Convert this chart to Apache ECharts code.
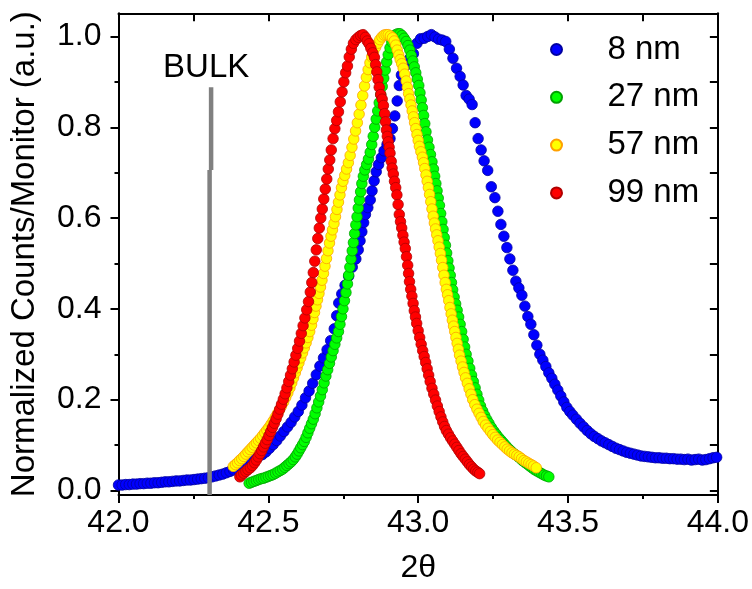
<!DOCTYPE html>
<html><head><meta charset="utf-8">
<script src="https://cdn.jsdelivr.net/npm/echarts@6/dist/echarts.min.js"></script>
<style>html,body{margin:0;padding:0;background:#fff}#c{width:752px;height:589px}</style>
</head><body><div id="c"></div>
<script>
const seriesNames = ['8 nm', '27 nm', '57 nm', '99 nm'];
const yMajorTicks = [0, 0.2, 0.4, 0.6, 0.8, 1.0];
const yMinorTicks = [0.1, 0.3, 0.5, 0.7, 0.9];
const yRightTicks = [0, 0.1, 0.2, 0.3, 0.4, 0.5, 0.6, 0.7, 0.8, 0.9, 1.0];
const bulkLower = [[42.304, -0.01], [42.304, 0.706]];
const bulkUpper = [[42.309, 0.706], [42.309, 0.888]];
const bulkLabelPoint = [[42.306, 0.888]];
const bulkText = 'BULK';

const blueData = [[42.000,0.012],[42.012,0.012],[42.024,0.013],[42.036,0.013],[42.048,0.014],[42.060,0.014],[42.072,0.015],[42.084,0.015],[42.096,0.016],[42.108,0.016],[42.120,0.017],[42.132,0.017],[42.144,0.018],[42.156,0.019],[42.168,0.019],[42.180,0.020],[42.192,0.021],[42.204,0.021],[42.216,0.022],[42.228,0.023],[42.240,0.023],[42.252,0.024],[42.264,0.025],[42.276,0.026],[42.288,0.027],[42.300,0.028],[42.312,0.030],[42.324,0.032],[42.336,0.034],[42.348,0.036],[42.360,0.039],[42.372,0.042],[42.384,0.045],[42.396,0.048],[42.408,0.051],[42.420,0.055],[42.432,0.060],[42.444,0.065],[42.456,0.070],[42.468,0.075],[42.480,0.079],[42.492,0.085],[42.504,0.093],[42.516,0.101],[42.528,0.110],[42.540,0.120],[42.552,0.130],[42.564,0.140],[42.576,0.150],[42.588,0.162],[42.600,0.174],[42.612,0.188],[42.624,0.204],[42.636,0.219],[42.648,0.236],[42.660,0.255],[42.672,0.274],[42.684,0.292],[42.696,0.310],[42.708,0.330],[42.720,0.356],[42.728,0.385],[42.735,0.413],[42.745,0.433],[42.756,0.452],[42.768,0.472],[42.780,0.492],[42.792,0.510],[42.800,0.530],[42.806,0.550],[42.812,0.570],[42.818,0.590],[42.824,0.608],[42.832,0.623],[42.840,0.640],[42.846,0.660],[42.853,0.682],[42.860,0.702],[42.868,0.718],[42.877,0.733],[42.886,0.748],[42.896,0.762],[42.906,0.775],[42.914,0.797],[42.922,0.825],[42.930,0.858],[42.937,0.892],[42.944,0.915],[42.956,0.935],[42.970,0.950],[42.984,0.962],[42.996,0.985],[43.008,0.995],[43.020,0.996],[43.032,1.000],[43.044,1.004],[43.056,0.999],[43.068,0.994],[43.080,0.992],[43.092,0.989],[43.104,0.972],[43.116,0.952],[43.128,0.930],[43.140,0.912],[43.150,0.893],[43.160,0.870],[43.170,0.862],[43.180,0.850],[43.190,0.810],[43.200,0.775],[43.210,0.750],[43.220,0.726],[43.232,0.705],[43.244,0.669],[43.256,0.645],[43.266,0.615],[43.276,0.586],[43.286,0.560],[43.296,0.535],[43.306,0.510],[43.316,0.485],[43.326,0.461],[43.336,0.446],[43.346,0.430],[43.356,0.406],[43.366,0.383],[43.376,0.366],[43.386,0.343],[43.396,0.320],[43.406,0.300],[43.416,0.287],[43.426,0.273],[43.436,0.259],[43.446,0.247],[43.456,0.234],[43.466,0.221],[43.476,0.208],[43.486,0.195],[43.496,0.183],[43.506,0.174],[43.516,0.166],[43.528,0.157],[43.540,0.148],[43.552,0.140],[43.564,0.132],[43.576,0.125],[43.588,0.119],[43.600,0.114],[43.612,0.109],[43.624,0.105],[43.636,0.101],[43.648,0.097],[43.660,0.093],[43.672,0.090],[43.684,0.087],[43.696,0.084],[43.708,0.082],[43.720,0.080],[43.732,0.078],[43.744,0.076],[43.756,0.075],[43.768,0.074],[43.780,0.073],[43.792,0.072],[43.804,0.072],[43.816,0.071],[43.828,0.071],[43.840,0.070],[43.852,0.070],[43.864,0.069],[43.876,0.069],[43.888,0.068],[43.900,0.069],[43.912,0.067],[43.924,0.068],[43.936,0.069],[43.948,0.067],[43.960,0.068],[43.972,0.070],[43.984,0.072],[43.996,0.073]];

const greenData = [[42.436,0.016],[42.444,0.018],[42.452,0.020],[42.460,0.022],[42.468,0.024],[42.476,0.026],[42.484,0.027],[42.492,0.029],[42.500,0.031],[42.508,0.033],[42.516,0.035],[42.524,0.038],[42.532,0.041],[42.540,0.044],[42.548,0.047],[42.555,0.051],[42.562,0.055],[42.569,0.059],[42.576,0.063],[42.583,0.068],[42.590,0.074],[42.596,0.080],[42.602,0.087],[42.608,0.094],[42.614,0.101],[42.620,0.108],[42.626,0.117],[42.632,0.127],[42.638,0.137],[42.644,0.147],[42.650,0.157],[42.656,0.169],[42.662,0.182],[42.668,0.195],[42.674,0.208],[42.680,0.222],[42.686,0.237],[42.692,0.252],[42.698,0.266],[42.704,0.280],[42.710,0.294],[42.716,0.308],[42.722,0.322],[42.728,0.336],[42.734,0.350],[42.739,0.366],[42.744,0.383],[42.749,0.400],[42.754,0.418],[42.759,0.436],[42.764,0.455],[42.768,0.474],[42.772,0.492],[42.776,0.510],[42.780,0.528],[42.784,0.546],[42.788,0.566],[42.792,0.585],[42.796,0.603],[42.800,0.622],[42.804,0.640],[42.808,0.658],[42.812,0.676],[42.817,0.692],[42.822,0.706],[42.828,0.718],[42.834,0.730],[42.840,0.745],[42.845,0.762],[42.850,0.780],[42.855,0.800],[42.860,0.818],[42.865,0.836],[42.870,0.854],[42.875,0.872],[42.880,0.890],[42.885,0.908],[42.890,0.926],[42.895,0.944],[42.900,0.960],[42.906,0.975],[42.912,0.988],[42.918,0.998],[42.925,1.004],[42.932,1.006],[42.939,1.006],[42.946,1.002],[42.953,0.996],[42.960,0.989],[42.966,0.980],[42.972,0.970],[42.977,0.958],[42.982,0.946],[42.987,0.933],[42.992,0.920],[42.997,0.906],[43.002,0.892],[43.006,0.876],[43.010,0.860],[43.014,0.843],[43.018,0.826],[43.022,0.808],[43.026,0.790],[43.031,0.772],[43.036,0.756],[43.041,0.740],[43.046,0.724],[43.051,0.708],[43.055,0.692],[43.059,0.676],[43.063,0.660],[43.067,0.644],[43.071,0.628],[43.075,0.610],[43.079,0.592],[43.083,0.575],[43.087,0.557],[43.091,0.540],[43.095,0.523],[43.099,0.506],[43.103,0.490],[43.107,0.474],[43.111,0.458],[43.115,0.442],[43.120,0.426],[43.125,0.411],[43.130,0.397],[43.135,0.382],[43.140,0.366],[43.145,0.350],[43.150,0.333],[43.155,0.316],[43.160,0.300],[43.166,0.285],[43.172,0.269],[43.178,0.254],[43.184,0.240],[43.190,0.226],[43.196,0.212],[43.202,0.199],[43.208,0.186],[43.215,0.175],[43.222,0.165],[43.229,0.156],[43.236,0.148],[43.244,0.139],[43.252,0.131],[43.260,0.124],[43.268,0.117],[43.276,0.111],[43.284,0.105],[43.292,0.099],[43.300,0.093],[43.308,0.088],[43.316,0.083],[43.324,0.079],[43.332,0.075],[43.340,0.071],[43.348,0.066],[43.356,0.062],[43.364,0.058],[43.372,0.054],[43.380,0.050],[43.388,0.046],[43.396,0.043],[43.404,0.040],[43.412,0.037],[43.420,0.034],[43.428,0.032],[43.436,0.030]];

const yellowData = [[42.383,0.053],[42.390,0.057],[42.397,0.061],[42.404,0.066],[42.411,0.070],[42.418,0.075],[42.425,0.080],[42.432,0.085],[42.439,0.090],[42.446,0.095],[42.453,0.100],[42.460,0.105],[42.467,0.110],[42.474,0.115],[42.481,0.121],[42.488,0.127],[42.495,0.133],[42.502,0.139],[42.509,0.146],[42.516,0.153],[42.523,0.161],[42.530,0.169],[42.537,0.177],[42.544,0.186],[42.551,0.195],[42.558,0.205],[42.565,0.215],[42.572,0.226],[42.578,0.237],[42.584,0.248],[42.590,0.259],[42.596,0.270],[42.602,0.281],[42.608,0.292],[42.614,0.303],[42.620,0.314],[42.626,0.325],[42.632,0.337],[42.638,0.350],[42.644,0.364],[42.649,0.378],[42.654,0.392],[42.659,0.406],[42.664,0.420],[42.669,0.434],[42.674,0.448],[42.679,0.463],[42.684,0.478],[42.689,0.494],[42.694,0.511],[42.699,0.528],[42.704,0.545],[42.709,0.560],[42.714,0.574],[42.719,0.588],[42.724,0.603],[42.729,0.619],[42.734,0.635],[42.739,0.651],[42.744,0.667],[42.749,0.681],[42.755,0.694],[42.761,0.708],[42.767,0.722],[42.773,0.738],[42.779,0.756],[42.785,0.774],[42.791,0.792],[42.797,0.810],[42.803,0.829],[42.809,0.849],[42.815,0.870],[42.821,0.891],[42.827,0.910],[42.833,0.927],[42.839,0.942],[42.845,0.955],[42.851,0.966],[42.858,0.976],[42.865,0.985],[42.872,0.993],[42.879,0.999],[42.886,1.003],[42.893,1.004],[42.900,1.004],[42.907,1.001],[42.914,0.997],[42.920,0.990],[42.925,0.981],[42.930,0.970],[42.935,0.959],[42.940,0.949],[42.945,0.940],[42.950,0.930],[42.955,0.917],[42.960,0.902],[42.964,0.888],[42.968,0.874],[42.972,0.862],[42.976,0.849],[42.980,0.836],[42.984,0.823],[42.988,0.810],[42.992,0.797],[42.996,0.784],[43.000,0.771],[43.004,0.758],[43.009,0.746],[43.014,0.734],[43.018,0.722],[43.022,0.709],[43.026,0.695],[43.030,0.681],[43.034,0.667],[43.038,0.652],[43.042,0.636],[43.046,0.620],[43.050,0.604],[43.054,0.589],[43.058,0.576],[43.062,0.563],[43.066,0.550],[43.070,0.536],[43.074,0.522],[43.078,0.507],[43.082,0.491],[43.086,0.474],[43.090,0.458],[43.094,0.443],[43.098,0.431],[43.102,0.418],[43.106,0.403],[43.110,0.389],[43.114,0.375],[43.118,0.362],[43.122,0.350],[43.126,0.337],[43.130,0.324],[43.134,0.311],[43.138,0.298],[43.143,0.285],[43.148,0.272],[43.153,0.260],[43.158,0.248],[43.164,0.236],[43.170,0.224],[43.176,0.212],[43.182,0.200],[43.189,0.189],[43.196,0.179],[43.203,0.170],[43.210,0.161],[43.217,0.152],[43.225,0.144],[43.233,0.137],[43.241,0.130],[43.249,0.123],[43.257,0.117],[43.265,0.111],[43.273,0.106],[43.281,0.101],[43.289,0.096],[43.297,0.091],[43.305,0.087],[43.313,0.083],[43.321,0.080],[43.329,0.077],[43.337,0.074],[43.345,0.070],[43.353,0.066],[43.361,0.063],[43.369,0.060],[43.377,0.057],[43.385,0.054],[43.394,0.050]];

const redData = [[42.405,0.030],[42.410,0.034],[42.418,0.038],[42.425,0.042],[42.432,0.046],[42.440,0.050],[42.447,0.055],[42.454,0.061],[42.460,0.067],[42.466,0.074],[42.472,0.081],[42.478,0.088],[42.484,0.096],[42.490,0.104],[42.496,0.112],[42.502,0.121],[42.508,0.130],[42.514,0.139],[42.520,0.148],[42.526,0.158],[42.532,0.168],[42.538,0.179],[42.544,0.190],[42.550,0.201],[42.556,0.213],[42.562,0.226],[42.568,0.240],[42.574,0.254],[42.580,0.268],[42.586,0.283],[42.592,0.298],[42.598,0.313],[42.604,0.329],[42.610,0.346],[42.616,0.363],[42.622,0.380],[42.628,0.398],[42.634,0.416],[42.640,0.437],[42.645,0.458],[42.650,0.480],[42.655,0.505],[42.660,0.530],[42.665,0.555],[42.670,0.578],[42.675,0.600],[42.680,0.620],[42.685,0.642],[42.690,0.664],[42.695,0.686],[42.700,0.708],[42.705,0.728],[42.710,0.750],[42.716,0.775],[42.722,0.797],[42.728,0.815],[42.734,0.834],[42.740,0.856],[42.746,0.878],[42.752,0.900],[42.758,0.920],[42.764,0.935],[42.770,0.955],[42.777,0.972],[42.784,0.985],[42.792,0.993],[42.800,0.998],[42.808,1.002],[42.816,1.004],[42.824,0.998],[42.830,0.990],[42.836,0.984],[42.842,0.974],[42.848,0.964],[42.854,0.954],[42.858,0.938],[42.862,0.922],[42.866,0.905],[42.870,0.888],[42.875,0.872],[42.880,0.862],[42.884,0.848],[42.888,0.830],[42.891,0.812],[42.894,0.794],[42.897,0.780],[42.900,0.768],[42.903,0.756],[42.906,0.743],[42.910,0.725],[42.913,0.710],[42.917,0.697],[42.921,0.681],[42.925,0.667],[42.929,0.651],[42.933,0.630],[42.937,0.608],[42.941,0.592],[42.945,0.578],[42.949,0.562],[42.953,0.547],[42.957,0.533],[42.961,0.515],[42.965,0.496],[42.968,0.478],[42.971,0.460],[42.975,0.443],[42.979,0.428],[42.983,0.412],[42.987,0.396],[42.991,0.382],[42.995,0.368],[43.000,0.352],[43.005,0.337],[43.010,0.322],[43.015,0.308],[43.020,0.295],[43.025,0.282],[43.030,0.268],[43.035,0.254],[43.040,0.240],[43.046,0.225],[43.052,0.212],[43.058,0.199],[43.064,0.186],[43.070,0.174],[43.076,0.162],[43.082,0.151],[43.088,0.141],[43.094,0.132],[43.101,0.124],[43.108,0.116],[43.115,0.109],[43.122,0.102],[43.129,0.095],[43.136,0.088],[43.143,0.081],[43.150,0.075],[43.157,0.069],[43.164,0.063],[43.171,0.057],[43.178,0.052],[43.185,0.047],[43.192,0.043],[43.199,0.040],[43.205,0.037]];

const FONT = 'Liberation Sans, Arial, Helvetica, sans-serif';
const chart = echarts.init(document.getElementById('c'), null, {renderer: 'canvas'});

function scatter(name, data, fill, border) {
  return {
    name: name, type: 'scatter', data: data, symbol: 'circle', symbolSize: 10.5,
    itemStyle: {color: fill, borderColor: border, borderWidth: 0.8, opacity: 1},
    emphasis: {disabled: true}, xAxisIndex: 0, yAxisIndex: 0
  };
}
const axisLineStyle = {color: '#000', width: 2};
const yMin = -0.01, yMax = 1.051;

chart.setOption({
  animation: false,
  backgroundColor: '#fff',
  textStyle: {fontFamily: FONT},
  grid: {left: 118.5, right: 33.5, top: 13.3, bottom: 90, containLabel: false},
  legend: {
    data: seriesNames, orient: 'vertical', left: 545, top: 28,
    itemWidth: 92, itemHeight: 11, itemGap: 14.8, icon: 'circle',
    textStyle: {fontSize: 33, color: '#000', fontFamily: FONT, lineHeight: 33},
    selectedMode: false
  },
  xAxis: [
    {type: 'value', position: 'bottom', min: 42, max: 44, interval: 0.5,
     name: '2θ', nameLocation: 'middle', nameGap: 57,
     nameTextStyle: {fontSize: 32, color: '#000', fontFamily: FONT},
     axisLine: {show: true, onZero: false, lineStyle: axisLineStyle},
     axisTick: {show: true, inside: false, length: 8, lineStyle: {color: '#000', width: 2}},
     minorTick: {show: true, splitNumber: 2, length: 4, lineStyle: {color: '#000', width: 2}},
     axisLabel: {fontSize: 32, color: '#000', margin: 12, fontFamily: FONT,
       formatter: v => v.toFixed(1)},
     splitLine: {show: false}},
    {type: 'value', position: 'top', min: 42, max: 44, interval: 0.25,
     axisLine: {show: true, onZero: false, lineStyle: axisLineStyle},
     axisTick: {show: true, inside: true, length: 8, lineStyle: {color: '#000', width: 2}},
     axisLabel: {show: false}, splitLine: {show: false}}
  ],
  yAxis: [
    {type: 'value', position: 'left', min: yMin, max: yMax,
     name: 'Normalized Counts/Monitor (a.u.)', nameLocation: 'middle', nameGap: 77,
     nameTextStyle: {fontSize: 33, color: '#000', fontFamily: FONT},
     axisLine: {show: true, onZero: false, lineStyle: axisLineStyle},
     axisTick: {show: true, inside: false, length: 8, customValues: yMajorTicks, lineStyle: {color: '#000', width: 2}},
     axisLabel: {fontSize: 32, color: '#000', margin: 17, fontFamily: FONT, customValues: yMajorTicks,
       formatter: v => v.toFixed(1)},
     splitLine: {show: false}},
    {type: 'value', position: 'left', min: yMin, max: yMax,
     axisLine: {show: false},
     axisTick: {show: true, inside: false, length: 4, customValues: yMinorTicks, lineStyle: {color: '#000', width: 2}},
     axisLabel: {show: false}, splitLine: {show: false}},
    {type: 'value', position: 'right', min: yMin, max: yMax,
     axisLine: {show: true, onZero: false, lineStyle: axisLineStyle},
     axisTick: {show: true, inside: true, length: 8, customValues: yRightTicks, lineStyle: {color: '#000', width: 2}},
     axisLabel: {show: false}, splitLine: {show: false}}
  ],
  series: [
    scatter(seriesNames[0], blueData, '#0000FF', '#0000A0'),
    scatter(seriesNames[1], greenData, '#00FF00', '#00A000'),
    scatter(seriesNames[2], yellowData, '#FFFF00', '#FFA000'),
    scatter(seriesNames[3], redData, '#FF0000', '#B00000'),
    {type: 'line', data: bulkLower, symbol: 'none', z: 5, silent: true,
     lineStyle: {color: '#808080', width: 4.5}, xAxisIndex: 0, yAxisIndex: 0},
    {type: 'line', data: bulkUpper, symbol: 'none', z: 5, silent: true,
     lineStyle: {color: '#808080', width: 4.5}, xAxisIndex: 0, yAxisIndex: 0},
    {type: 'scatter', data: bulkLabelPoint, symbolSize: 0, silent: true, z: 6,
     itemStyle: {color: '#000', opacity: 1},
     label: {show: true, position: 'top', distance: 3, offset: [-4, 0], formatter: bulkText,
       fontSize: 33, color: '#000000', opacity: 1, fontFamily: FONT},
     xAxisIndex: 0, yAxisIndex: 0}
  ]
});
</script></body></html>
